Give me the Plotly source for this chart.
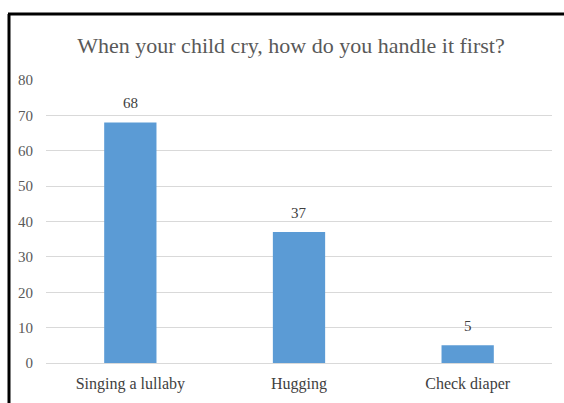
import plotly.graph_objects as go

categories = ["Singing a lullaby", "Hugging", "Check diaper"]
values = [68, 37, 5]
y_ticks = [0, 10, 20, 30, 40, 50, 60, 70, 80]

W, H = 564, 403
L, R, T, B = 46, 12, 80, 40
pw, ph = W - L - R, H - T - B
SERIF = "Liberation Serif, Times New Roman, serif"

def px(x):
    return (x - L) / pw

def py(y):
    return (H - B - y) / ph

fig = go.Figure(go.Bar(
    x=categories, y=values, width=0.31,
    marker=dict(color="#5B9BD5", line=dict(width=0)),
    cliponaxis=False,
))

for c, v in zip(categories, values):
    fig.add_annotation(x=c, y=v, text=str(v), showarrow=False,
                       yanchor="bottom", yshift=9,
                       font=dict(family=SERIF, size=15, color="#404040"))

fig.update_layout(
    width=W, height=H,
    margin=dict(l=L, r=R, t=T, b=B, autoexpand=False),
    paper_bgcolor="white", plot_bgcolor="white",
    showlegend=False,
    font=dict(family=SERIF),
    title=dict(text="When your child cry, how do you handle it first?",
               x=px(291), xref="paper", xanchor="center",
               y=1 - 45 / H, yref="container", yanchor="middle",
               font=dict(family=SERIF, size=22, color="#595959")),
    xaxis=dict(showgrid=False, showline=False, ticks="", automargin=False,
               ticklabelstandoff=9,
               tickfont=dict(family=SERIF, size=16, color="#404040")),
    yaxis=dict(range=[0, 80], tickvals=y_ticks, showgrid=True, automargin=False,
               gridcolor="#D9D9D9", gridwidth=1, zeroline=True,
               zerolinecolor="#D9D9D9", zerolinewidth=1, ticks="",
               ticklabelstandoff=12,
               tickfont=dict(family=SERIF, size=15, color="#595959")),
    shapes=[
        dict(type="line", xref="paper", yref="paper",
             x0=px(9), x1=px(9), y0=py(14), y1=py(420),
             line=dict(color="black", width=3)),
        dict(type="line", xref="paper", yref="paper",
             x0=px(8), x1=px(580), y0=py(14), y1=py(14),
             line=dict(color="black", width=3)),
    ],
)

fig.write_html("out.html")
